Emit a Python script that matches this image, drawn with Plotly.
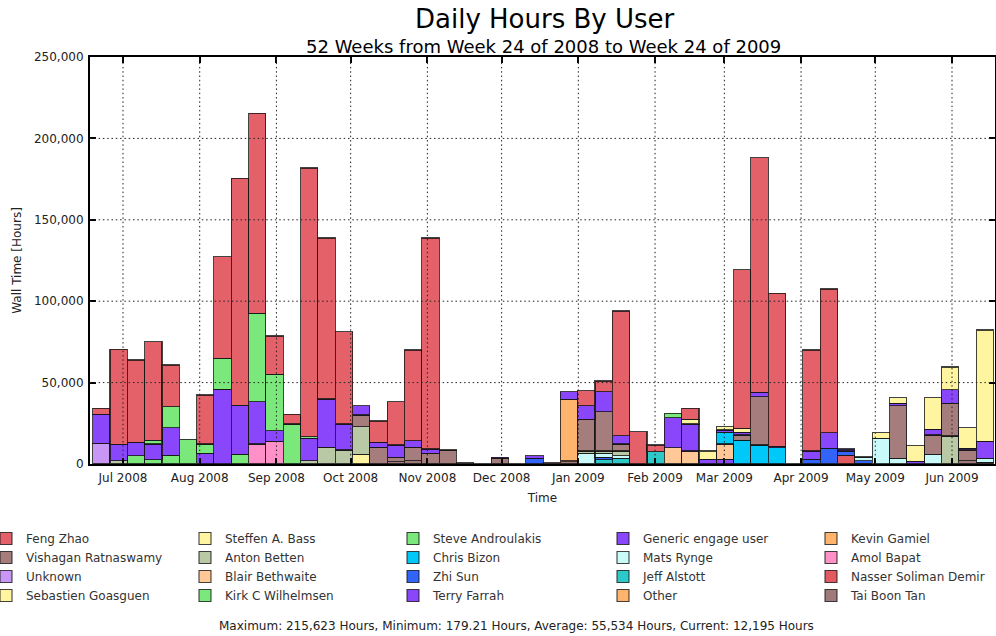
import pandas as pd
import plotly.graph_objects as go

N = None
# Weekly bars (centres), 52 weeks from week 24 of 2008
weeks = pd.date_range("2008-06-22 06:00", periods=52, freq="7D")

# Wall time per user and week [hours]
feng_zhao = [3700, 58300, 50600, 60400, 25600, N, 30100, 62500, 139300, 122800, 23500, 5900, 165000, 98900, 56700, N,
             13100, 26600, 55700, 129600, N, N, N, N, N, N, N, N, 9200, 6600, 76600, 19800, 4100, N, 6800, N,
             N, 97300, 144000, 94000, N, 62000, 88300, N, N, N, N, N, N, N, N, N]
generic_engage = [17800, 10100, 8300, 9800, 16800, N, 6500, 45900, 30100, 26000, 6400, N, 13800, 29700, 16000, 5700,
                  3100, 7600, 4100, 2700, 300, N, N, 600, N, 1600, N, 4700, 8400, 12300, 5100, N, N, 18500, 16600, 2900,
                  1500, 1600, 2600, 1000, N, 5100, 9600, 1200, 500, N, 1500, 1800, 3500, 8200, 1000, 10600]
steve_androulakis = [N, N, N, 2400, 12900, 15200, 5800, 19000, N, 54300, 34600, 24600, 1000, N, N, N,
                     N, N, N, N, N, N, N, N, N, N, N, N, N, N, N, N, N, 2600, N, N,
                     N, N, N, N, N, N, N, N, N, N, N, N, N, N, N, N]
kirk_wilhelmsen = [N, N, 5000, 2500, 5500, N, N, N, 6100, N, N, N, N, N, N, N,
                   N, N, N, N, N, N, N, N, N, N, N, N, N, N, N, N, N, N, N, N,
                   N, N, N, N, N, N, N, N, N, N, N, N, N, N, N, N]
unknown = [12700, N, N, N, N, N, N, N, N, N, N, N, N, N, N, N,
           N, N, N, N, N, N, N, N, N, N, N, N, N, N, N, N, N, N, N, N,
           N, N, N, N, N, N, N, N, N, N, N, N, N, N, N, N]
amol_bapat = [N, N, N, N, N, N, N, N, N, 12300, 14100, N, N, N, N, N,
              N, N, N, N, N, N, N, N, N, N, N, N, N, N, N, N, N, N, N, N,
              N, N, N, N, N, N, N, N, N, N, N, N, N, N, N, N]
anton_betten = [N, 2000, N, N, N, N, N, N, N, N, N, N, 2000, 10200, 8600, 16800,
                N, N, N, N, N, N, N, N, N, N, N, N, 1500, 1500, 3000, N, N, N, N, N,
                N, N, N, N, N, N, N, N, N, N, N, N, N, 17200, N, N]
steffen_bass = [N, N, N, N, N, N, N, N, N, N, N, N, N, N, N, 6100,
                N, N, N, N, N, N, N, N, N, N, N, N, N, N, N, N, N, N, N, N,
                N, N, N, N, N, N, N, N, N, N, N, N, N, N, N, N]
vishagan = [N, N, N, N, N, N, N, N, N, N, N, N, N, N, N, 7200,
            10200, 2700, 8200, 6500, 8400, N, N, 3500, N, N, N, N, 19400, 24100, 4300, N, N, N, N, N,
            N, 3100, 29700, N, N, N, N, N, N, N, 32300, N, 11700, 20100, 6600, N]
tai_boon_tan = [N, N, N, N, N, N, N, N, N, N, N, N, N, N, N, N,
                N, 1400, 2000, N, N, 900, 180, N, 300, N, 800, 1500, N, N, N, N, N, N, N, N,
                N, N, N, N, 200, N, N, N, 500, N, N, N, N, N, 2000, 1000]
kevin_gamiel = [N] * 27 + [37600] + [N] * 24
other = [N] * 27 + [600] + [N] * 24
mats_rynge = [N, N, N, N, N, N, N, N, N, N, N, N, N, N, N, N,
              N, N, N, N, N, N, N, N, N, N, N, N, 6500, 2400, 1500, N, N, N, N, N,
              N, N, N, N, N, N, N, N, 2000, 15800, 3500, N, 6100, N, N, 2500]
jeff_alstott = [N] * 29 + [2500, 3500, N, 7600] + [N] * 19
zhi_sun = [N, N, N, N, N, N, N, N, N, N, N, N, N, N, N, N,
           N, N, N, N, N, N, N, N, N, 3500, N, N, N, 1600, N, N, N, N, N, N,
           N, N, N, N, N, 2900, 9600, 2500, 1500, N, N, N, N, N, N, N]
blair_bethwaite = [N] * 33 + [10000, 8000, N, 9400] + [N] * 15
chris_bizon = [N] * 36 + [7100, 14700, 11700, 10000] + [N] * 12
terry_farrah = [N] * 36 + [2900] + [N] * 15
sebastien = [N, N, N, N, N, N, N, N, N, N, N, N, N, N, N, N,
             N, N, N, N, N, N, N, N, N, N, N, N, N, N, N, N, N, N, 2800, 5100,
             2000, 2500, N, N, N, N, N, N, N, 3400, 3400, 9300, 19400, 14100, 12700, 68200]
nasser = [N] * 43 + [5500] + [N] * 8

# (name, values, colour, legend column, legend row) in stacking order (bottom -> top)
series = [
    ("Nasser Soliman Demir", nasser, "#e25a60", 5, 3),
    ("Terry Farrah", terry_farrah, "#8a46f8", 3, 4),
    ("Tai Boon Tan", tai_boon_tan, "#a07a7a", 5, 4),
    ("Other", other, "#ffb46e", 4, 4),
    ("Kevin Gamiel", kevin_gamiel, "#ffb46e", 5, 1),
    ("Unknown", unknown, "#c896f5", 1, 3),
    ("Amol Bapat", amol_bapat, "#ff91c8", 5, 2),
    ("Kirk C Wilhelmsen", kirk_wilhelmsen, "#7ae87a", 2, 4),
    ("Steffen A. Bass", steffen_bass, "#fff5a0", 2, 1),
    ("Jeff Alstott", jeff_alstott, "#2dc8c8", 4, 3),
    ("Zhi Sun", zhi_sun, "#3264fa", 3, 3),
    ("Mats Rynge", mats_rynge, "#c8fafa", 4, 2),
    ("Blair Bethwaite", blair_bethwaite, "#ffc896", 2, 3),
    ("Chris Bizon", chris_bizon, "#00c8f8", 3, 2),
    ("Anton Betten", anton_betten, "#b9c8a5", 2, 2),
    ("Vishagan Ratnaswamy", vishagan, "#a57d7d", 1, 2),
    ("Generic engage user", generic_engage, "#8a46fa", 4, 1),
    ("Steve Androulakis", steve_androulakis, "#7ae87a", 3, 1),
    ("Sebastien Goasguen", sebastien, "#fff5a0", 1, 4),
    ("Feng Zhao", feng_zhao, "#e5616a", 1, 1),
]

month_ticks = pd.date_range("2008-07-01", "2009-06-01", freq="MS")
y_ticks = [0, 50000, 100000, 150000, 200000, 250000]

FONT = "DejaVu Sans"
WEEK_MS = 7 * 24 * 3600 * 1000

fig = go.Figure()
for name, vals, col, lcol, lrow in series:
    fig.add_trace(go.Bar(
        x=weeks, y=vals, name=name, width=WEEK_MS,
        marker=dict(color=col, line=dict(color="rgba(20,20,20,0.8)", width=1.1)),
        legend="legend" if lcol == 1 else f"legend{lcol}",
        legendrank=lrow,
    ))

FIG_W, FIG_H = 996, 636
L, T, W, H = 90, 57, 905, 407


def px_x(p):  # pixel -> paper x
    return (p - L) / W


def px_y(p):  # pixel -> paper y
    return (T + H - p) / H


legend_lefts = [-14, 185, 393, 603, 811]
legend_common = dict(orientation="v", yanchor="top", xanchor="left", y=px_y(524),
                     bgcolor="rgba(0,0,0,0)", font=dict(family=FONT, size=12, color="#333"),
                     traceorder="normal", tracegroupgap=0)
legends = {}
for i, lp in enumerate(legend_lefts):
    key = "legend" if i == 0 else f"legend{i + 1}"
    legends[key] = dict(legend_common, x=px_x(lp))

# dotted grid drawn above the bars (as in the original)
shapes = []
for d in month_ticks:
    shapes.append(dict(type="line", xref="x", yref="paper", x0=d, x1=d, y0=0, y1=1, layer="above",
                       line=dict(color="#222", width=1, dash="1.5px,2.8px")))
for v in y_ticks[1:-1]:
    shapes.append(dict(type="line", xref="paper", yref="y", x0=0, x1=1, y0=v, y1=v, layer="above",
                       line=dict(color="#222", width=1, dash="1.5px,2.8px")))

fig.update_layout(
    width=FIG_W, height=FIG_H,
    margin=dict(l=L, r=FIG_W - L - W, t=T, b=FIG_H - T - H, autoexpand=False),
    paper_bgcolor="white", plot_bgcolor="white",
    barmode="stack", showlegend=True,
    font=dict(family=FONT, size=12, color="#222"),
    shapes=shapes,
    xaxis=dict(type="date", range=["2008-06-17 16:00", "2009-06-18 09:00"],
               tickvals=list(month_ticks), tickformat="%b %Y",
               showgrid=False, zeroline=False,
               ticks="inside", ticklen=6, tickwidth=2, tickcolor="black",
               showline=True, linewidth=2, linecolor="black", mirror="ticks",
               ticklabelstandoff=2,
               tickfont=dict(family=FONT, size=12, color="#222"),
               title=dict(text="Time", font=dict(family=FONT, size=12, color="#222"), standoff=9)),
    yaxis=dict(range=[0, 250000], tickvals=y_ticks, tickformat=",d",
               showgrid=False, zeroline=False,
               ticks="inside", ticklen=6, tickwidth=2, tickcolor="black",
               showline=True, linewidth=2, linecolor="black", mirror="ticks",
               ticklabelstandoff=2,
               tickfont=dict(family=FONT, size=12, color="#222"),
               title=dict(text="Wall Time [Hours]", font=dict(family=FONT, size=12, color="#222"), standoff=10)),
    annotations=[
        dict(text="Daily Hours By User", xref="paper", yref="paper", x=px_x(544.5), y=px_y(19),
             xanchor="center", yanchor="middle", showarrow=False,
             font=dict(family=FONT, size=26, color="black")),
        dict(text="52 Weeks from Week 24 of 2008 to Week 24 of 2009", xref="paper", yref="paper",
             x=px_x(543.5), y=px_y(46), xanchor="center", yanchor="middle", showarrow=False,
             font=dict(family=FONT, size=18, color="black")),
        dict(text="Maximum: 215,623 Hours, Minimum: 179.21 Hours, Average: 55,534 Hours, Current: 12,195 Hours",
             xref="paper", yref="paper", x=px_x(516.5), y=px_y(626), xanchor="center", yanchor="middle",
             showarrow=False, font=dict(family=FONT, size=12, color="#222")),
    ],
    **legends,
)

# the page's default body margin would offset the figure; remove it
fig.write_html("out.html", config={"displayModeBar": False},
               post_script="document.body.style.margin='0';")
